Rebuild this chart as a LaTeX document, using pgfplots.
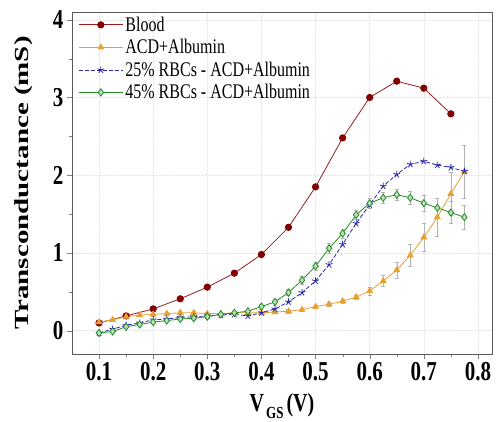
\documentclass[border=0pt]{standalone}
\usepackage{fontspec}
\setmainfont{Liberation Serif}
\usepackage{pgfplots}
\pgfplotsset{compat=1.18}
\definecolor{blood}{RGB}{150,30,30}
\definecolor{bloodm}{RGB}{130,0,0}
\definecolor{acd}{RGB}{232,160,50}
\definecolor{rbc25}{RGB}{40,40,170}
\definecolor{rbc45}{RGB}{35,140,35}
\newcommand{\tall}[1]{\scalebox{1}[1.3]{#1}}
\begin{document}
\begin{tikzpicture}
\path[use as bounding box] (-72pt,-68pt) rectangle (424pt,354pt);
\begin{axis}[scale only axis,width=420pt,height=342pt,at={(0,0)},anchor=south west,
  xmin=0.05,xmax=0.826,ymin=-0.3,ymax=4.1,
  xtick={0.1,0.2,...,0.8},ytick={0,1,2,3,4},
  xticklabels={\tall{0.1},\tall{0.2},\tall{0.3},\tall{0.4},\tall{0.5},\tall{0.6},\tall{0.7},\tall{0.8}},
  yticklabels={\tall{0},\tall{1},\tall{2},\tall{3},\tall{4}},
  minor x tick num=1,minor y tick num=1,
  tick label style={font=\fontsize{21}{21}\selectfont\bfseries},
  tick align=outside,tick pos=left,
  major tick length=5pt,minor tick length=3pt,
  axis line style={gray!70!black,semithick},
  grid=major,grid style={gray!20,densely dotted},
  xlabel={\tall{V\kern2pt\raisebox{-5pt}{\fontsize{13}{13}\selectfont GS}\kern3pt(V)}},
  ylabel={\scalebox{1.45}[1]{Transconductance (mS)}},
  label style={font=\fontsize{20}{20}\selectfont\bfseries},
  xlabel style={at={(axis description cs:0.5,0)},anchor=center,yshift=-52pt},
  ylabel style={at={(axis description cs:0,0.5)},anchor=center,yshift=48pt},
  legend style={draw=none,fill=none,at={(0.012,0.995)},anchor=north west,
    font=\fontsize{16}{17}\selectfont,row sep=2.6pt,inner sep=1pt},
  legend cell align=left,
  legend image code/.code={\draw[mark repeat=2,mark phase=2] plot coordinates {(0cm,0cm)(0.78cm,0cm)(1.56cm,0cm)};},
  error bars/error bar style={gray!60,thin},
  error bars/error mark options={rotate=90,mark size=2pt,gray!60},
]
\addplot[blood,thick,mark=*,mark size=3.2pt,mark options={fill=bloodm,draw=bloodm}] coordinates {
(0.1,0.1)(0.15,0.19)(0.2,0.28)(0.25,0.41)(0.3,0.56)(0.35,0.74)(0.4,0.98)(0.45,1.33)
(0.5,1.85)(0.55,2.48)(0.6,3.0)(0.65,3.21)(0.7,3.12)(0.75,2.79)};
\addlegendentry{\tall{Blood}}
\addplot[acd,thick,mark=triangle*,mark size=3.3pt,mark options={fill=acd},
  error bars/.cd,y dir=both,y explicit] coordinates {
(0.1,0.11)+-(0,0.02)(0.125,0.14)+-(0,0.02)(0.15,0.18)+-(0,0.02)(0.175,0.2)+-(0,0.02)
(0.2,0.21)+-(0,0.02)(0.225,0.22)+-(0,0.02)(0.25,0.23)+-(0,0.02)(0.275,0.23)+-(0,0.02)
(0.3,0.22)+-(0,0.02)(0.325,0.22)+-(0,0.02)(0.35,0.23)+-(0,0.02)(0.375,0.23)+-(0,0.02)
(0.4,0.23)+-(0,0.02)(0.425,0.24)+-(0,0.02)(0.45,0.25)+-(0,0.02)(0.475,0.27)+-(0,0.02)
(0.5,0.31)+-(0,0.02)(0.525,0.34)+-(0,0.02)(0.55,0.38)+-(0,0.03)(0.575,0.43)+-(0,0.03)
(0.6,0.51)+-(0,0.05)(0.625,0.64)+-(0,0.07)(0.65,0.78)+-(0,0.1)(0.675,0.97)+-(0,0.14)
(0.7,1.2)+-(0,0.18)(0.725,1.46)+-(0,0.25)(0.75,1.76)+-(0,0.28)(0.775,2.05)+-(0,0.34)};
\addlegendentry{\tall{ACD+Albumin}}
\addplot[rbc25,thick,dash pattern=on 4pt off 2pt,mark=star,mark size=3.6pt,mark options={solid,thick,rbc25}] coordinates {
(0.1,-0.03)(0.125,0.02)(0.15,0.07)(0.175,0.1)(0.2,0.14)(0.225,0.15)(0.25,0.17)(0.275,0.18)
(0.3,0.19)(0.325,0.2)(0.35,0.21)(0.375,0.19)(0.4,0.23)(0.425,0.28)(0.45,0.37)(0.475,0.49)
(0.5,0.64)(0.525,0.85)(0.55,1.11)(0.575,1.38)(0.6,1.62)(0.625,1.86)(0.65,2.01)(0.675,2.14)
(0.7,2.18)(0.725,2.13)(0.75,2.1)(0.775,2.05)};
\addlegendentry{\tall{25\% RBCs - ACD+Albumin}}
\addplot[rbc45,thick,mark=diamond*,mark size=3.6pt,mark options={fill=rbc45!30!white,draw=rbc45},
  error bars/.cd,y dir=both,y explicit] coordinates {
(0.1,-0.03)+-(0,0.01)(0.125,-0.01)+-(0,0.01)(0.15,0.05)+-(0,0.01)(0.175,0.08)+-(0,0.01)
(0.2,0.11)+-(0,0.01)(0.225,0.13)+-(0,0.01)(0.25,0.15)+-(0,0.01)(0.275,0.16)+-(0,0.01)
(0.3,0.18)+-(0,0.01)(0.325,0.21)+-(0,0.02)(0.35,0.23)+-(0,0.02)(0.375,0.25)+-(0,0.02)
(0.4,0.31)+-(0,0.03)(0.425,0.37)+-(0,0.04)(0.45,0.49)+-(0,0.04)(0.475,0.65)+-(0,0.05)
(0.5,0.83)+-(0,0.05)(0.525,1.06)+-(0,0.06)(0.55,1.25)+-(0,0.06)(0.575,1.49)+-(0,0.06)
(0.6,1.64)+-(0,0.07)(0.625,1.71)+-(0,0.07)(0.65,1.75)+-(0,0.07)(0.675,1.71)+-(0,0.08)
(0.7,1.64)+-(0,0.1)(0.725,1.58)+-(0,0.12)(0.75,1.52)+-(0,0.14)(0.775,1.46)+-(0,0.16)};
\addlegendentry{\tall{45\% RBCs - ACD+Albumin}}
\end{axis}
\end{tikzpicture}
\end{document}
